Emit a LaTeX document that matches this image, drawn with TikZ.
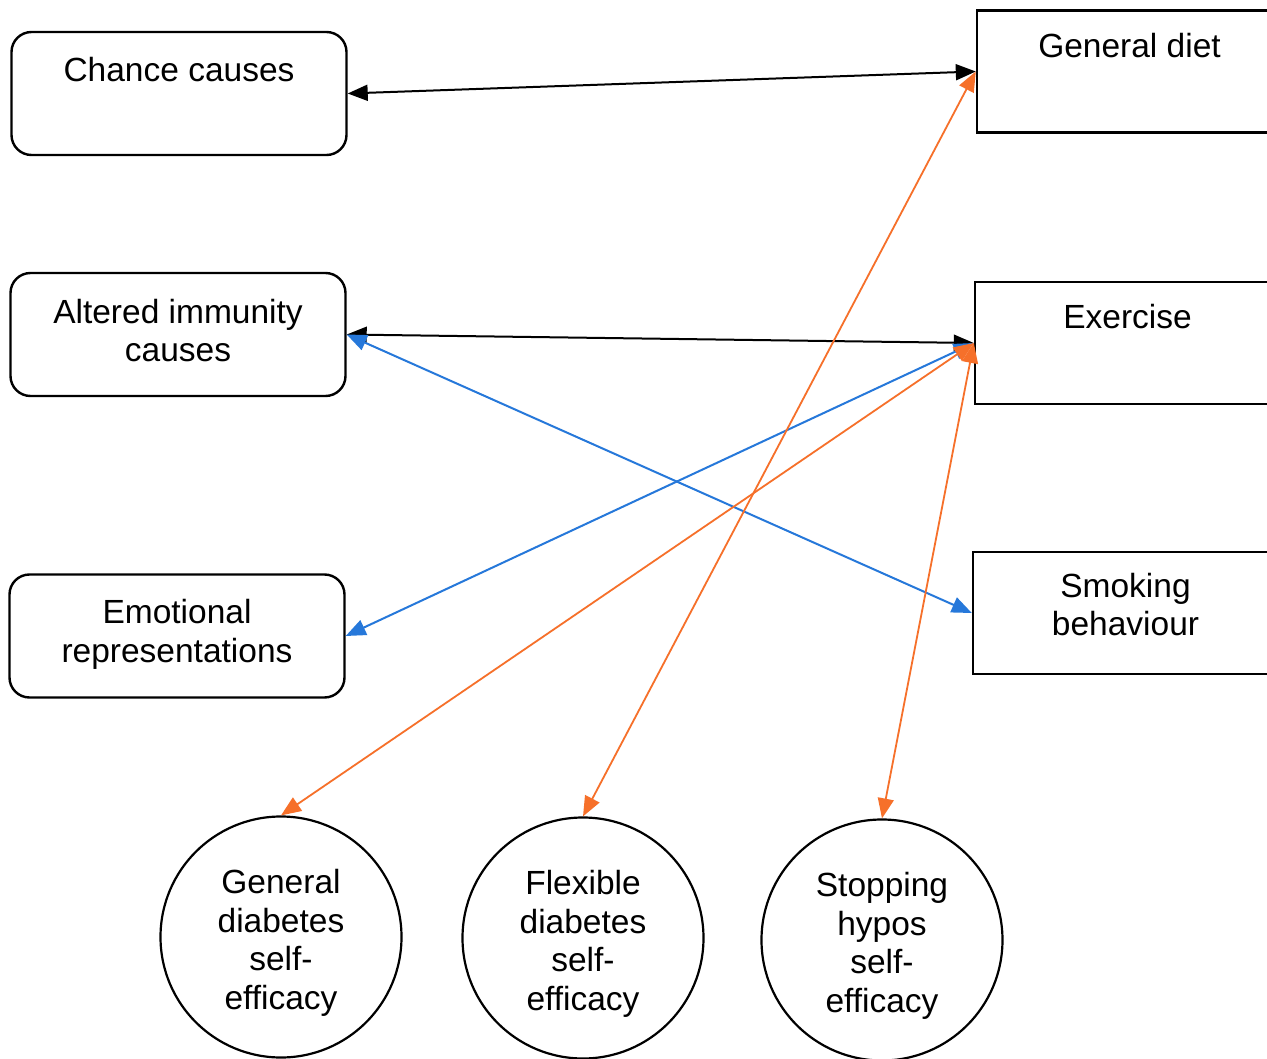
\documentclass[tikz,border=0pt]{standalone}
\usepackage{fontspec}
\setmainfont{Liberation Sans}
\usetikzlibrary{arrows.meta,calc}
\definecolor{linkblue}{RGB}{38,120,218}
\definecolor{linkorange}{RGB}{246,112,42}
\begin{document}
\begin{tikzpicture}[x=1pt,y=-1pt,
  >={Triangle[length=20pt,width=16pt]},
  txt/.style={font=\fontsize{33.5}{38.5}\selectfont, align=center, inner sep=0pt},
  rbox/.style={draw, line width=2.4pt, rounded corners=20pt, minimum width=335pt, minimum height=123pt, inner sep=0pt},
  sbox/.style={draw, line width=2.4pt, minimum width=305pt, minimum height=122pt, inner sep=0pt},
  factor/.style={draw, circle, line width=2.2pt, minimum size=241pt, inner sep=0pt},
  link/.style={<->, line width=2pt},
  blacklink/.style={link, black},
  bluelink/.style={link, linkblue},
  orangelink/.style={link, linkorange, line width=1.8pt}]
\useasboundingbox (0,0) rectangle (1267,1059);
\fill[white] (0,0) rectangle (1267,1059);

% belief boxes (left column)
\node[rbox] (chance)  at (179,93.5) {};
\node[rbox] (immune)  at (178,334.5) {};
\node[rbox] (emotion) at (177,636) {};
\node[txt, anchor=north] (chanceT)  at ($(chance.north)+(0,26)$) {Chance causes};
\node[txt, anchor=north] (immuneT)  at ($(immune.north)+(0,27)$) {Altered immunity\\causes};
\node[txt, anchor=north] (emotionT) at ($(emotion.north)+(0,26)$) {Emotional\\representations};

% behaviour boxes (right column)
\node[sbox] (diet)     at (1129.5,71.5) {};
\node[sbox] (exercise) at (1127.5,343) {};
\node[sbox] (smoking)  at (1125.5,613) {};
\node[txt, anchor=north] (dietT)     at ($(diet.north)+(0,24)$) {General diet};
\node[txt, anchor=north] (exerciseT) at ($(exercise.north)+(0,23)$) {Exercise};
\node[txt, anchor=north] (smokingT)  at ($(smoking.north)+(0,22)$) {Smoking\\behaviour};

% self-efficacy factors
\node[factor] (gen)  at (281,937) {};
\node[factor] (flex) at (583,938) {};
\node[factor] (stop) at (882,940) {};
\node[txt] (genT)  at ($(gen)+(0,6)$)  {General\\diabetes\\self-\\efficacy};
\node[txt] (flexT) at ($(flex)+(0,6)$) {Flexible\\diabetes\\self-\\efficacy};
\node[txt] (stopT) at ($(stop)+(0,6)$) {Stopping\\hypos\\self-\\efficacy};

% associations
\draw[blacklink] (chance.east) -- (diet.west);
\draw[blacklink] (immune.east) -- (exercise.west);
\draw[bluelink] (immune.east) -- (smoking.west);
\draw[bluelink] (emotion.east) -- (exercise.west);
\draw[orangelink] (diet.west) -- (flex.north);
\draw[orangelink] (exercise.west) -- (gen.north);
\draw[orangelink] (exercise.west) -- (stop.north);
\end{tikzpicture}
\end{document}
